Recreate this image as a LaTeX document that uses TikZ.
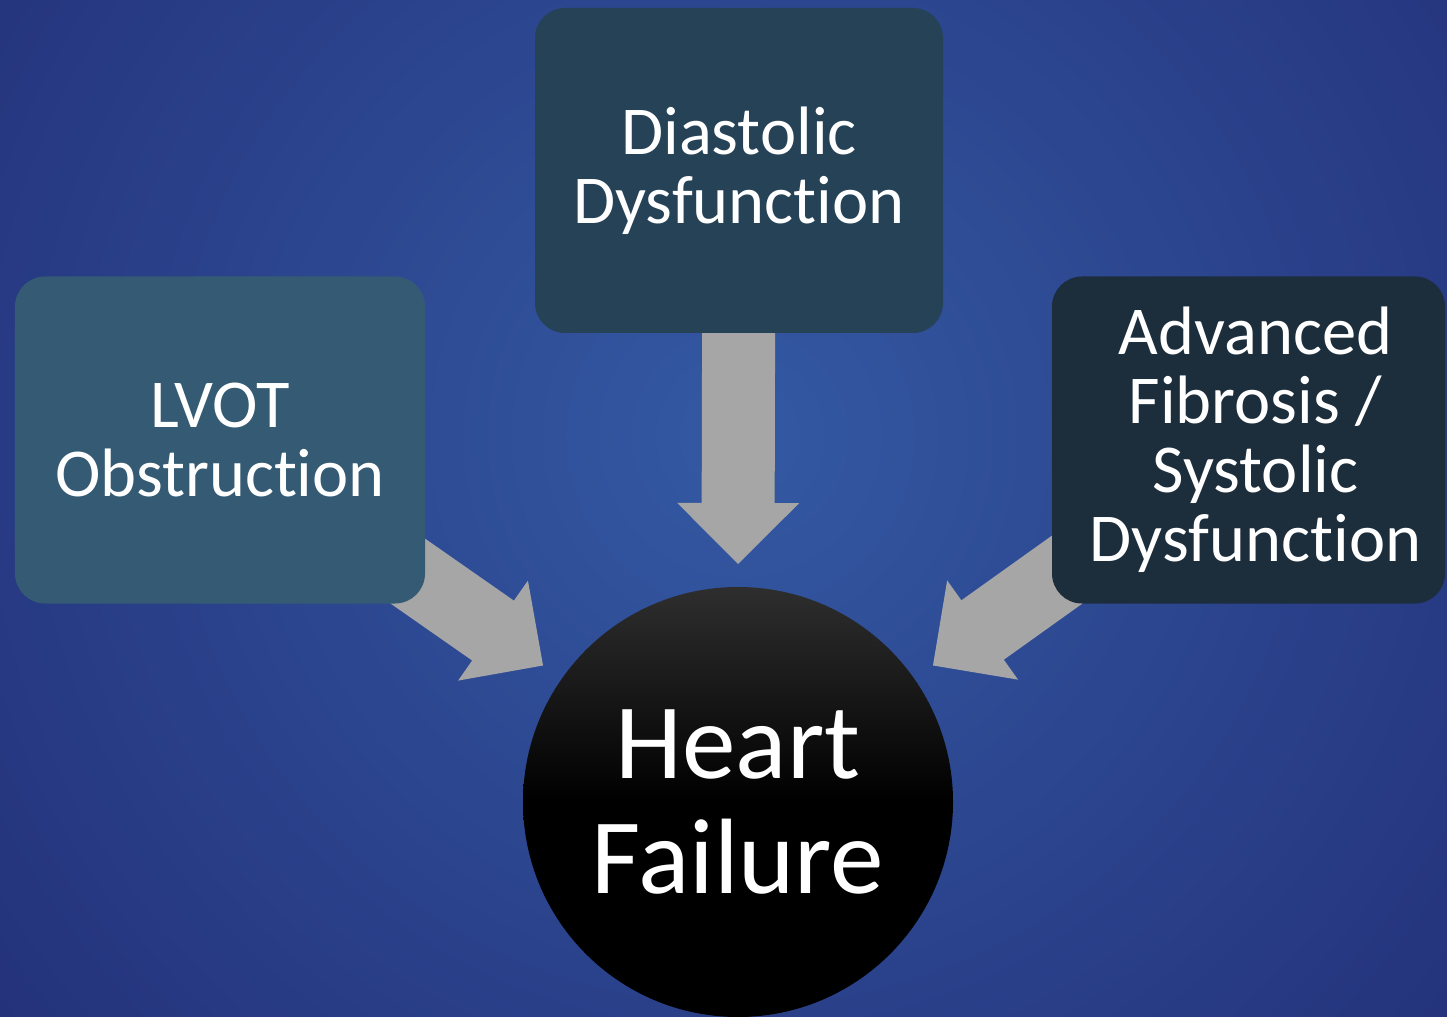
\documentclass[tikz,border=0pt]{standalone}
\usepackage{fontspec}
\setmainfont{Carlito}[Ligatures=NoCommon]
\usetikzlibrary{calc, shapes.geometric, positioning}
\definecolor{bglight}{HTML}{3459A3}
\definecolor{bgdark}{HTML}{1D236B}
\definecolor{lvotcol}{HTML}{345B73}
\definecolor{diacol}{HTML}{254257}
\definecolor{advcol}{HTML}{1C2D3C}
\definecolor{hftop}{HTML}{2E2E2E}
\definecolor{arrowgray}{HTML}{A6A6A6}
\pgfdeclarelayer{bg}
\pgfdeclarelayer{behind}
\pgfsetlayers{bg,behind,main}
\newcommand\fatarrow[2]{\coordinate (neck) at ($(#2)!6.1mm!(#1)$);
\fill[arrowgray] ($(#1)!3.65mm!90:(#2)$) -- ($(neck)!3.65mm!90:(#2)$) -- ($(neck)!6.1mm!90:(#2)$) -- (#2) -- ($(neck)!6.1mm!-90:(#2)$) -- ($(neck)!3.65mm!-90:(#2)$) -- ($(#1)!3.65mm!-90:(#2)$) -- cycle;}

\begin{document}
\begin{tikzpicture}[box/.style={rounded corners=0.3cm, text=white, align=center, inner sep=0pt, font=\fontsize{19.5}{19.6}\selectfont}]
\useasboundingbox (0,0) rectangle (14.47,10.16);
\node[box, fill=lvotcol, minimum width=4.10cm, minimum height=3.27cm] (lvot) at (2.20,5.76) {LVOT\\Obstruction};
\node[box, fill=diacol, minimum width=4.08cm, minimum height=3.25cm] (dd) at (7.39,8.455) {Diastolic\\Dysfunction};
\node[box, fill=advcol, minimum width=3.93cm, minimum height=3.27cm] (afsd) at (12.485,5.76) {\hspace*{0.14cm}Advanced\\\hspace*{0.14cm}Fibrosis /\\\hspace*{0.14cm}Systolic\\\hspace*{0.14cm}Dysfunction};
\node[circle, minimum size=4.30cm, inner sep=0pt, top color=hftop, bottom color=black, middle color=black, text=white, align=center, font=\fontsize{30.5}{32.7}\selectfont] (hf) at (7.38,2.14) {Heart\\Failure};
\begin{pgfonlayer}{bg}
\begin{scope}
\clip (0,0) rectangle (14.47,10.16);
\shade[inner color=bglight, outer color=bgdark] (7.4,5.8) circle (13cm);
\end{scope}
\end{pgfonlayer}
\begin{pgfonlayer}{behind}
\foreach \src/\ang in {lvot/145, dd/90, afsd/35} {
  \coordinate (tip) at ($(hf.center)+(\ang:2.38)$);
  \fatarrow{\src.center}{tip}
}
\end{pgfonlayer}
\end{tikzpicture}
\end{document}
